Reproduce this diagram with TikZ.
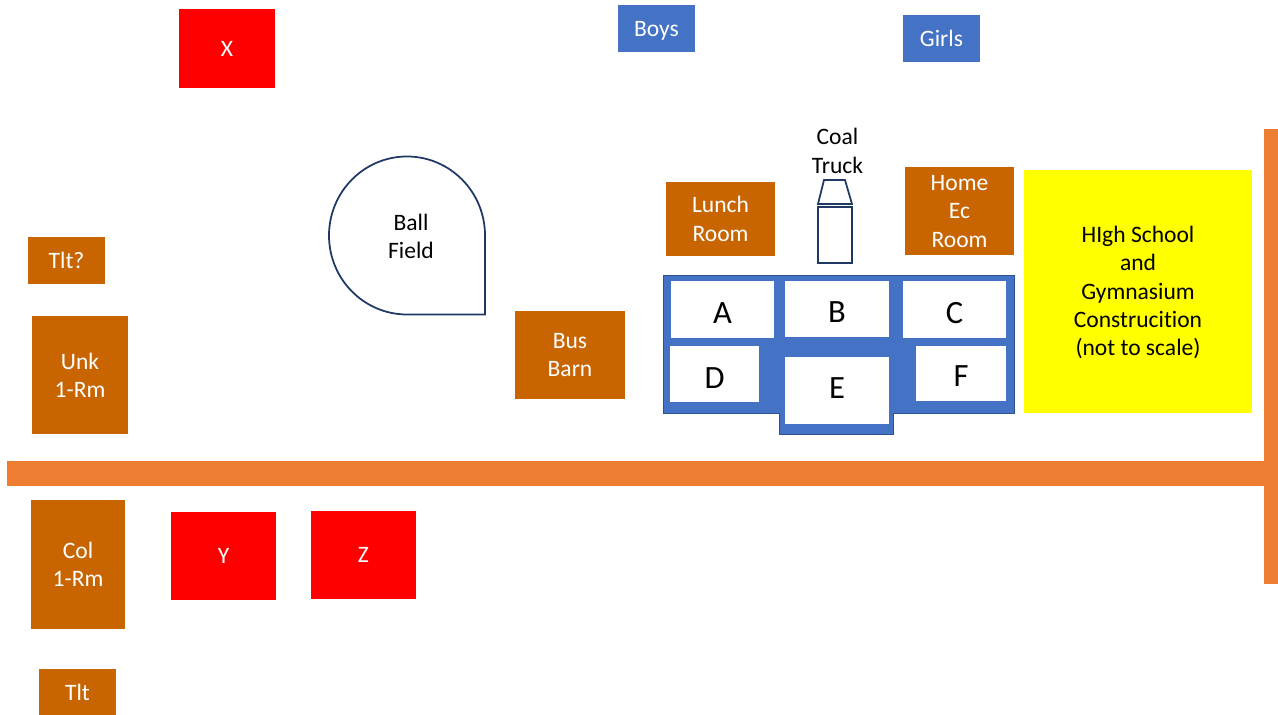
\documentclass[tikz,border=0pt]{standalone}
\usepackage{fontspec}
\setmainfont[Ligatures=CommonOff]{Carlito}
\definecolor{roomfill}{HTML}{C96500}
\definecolor{wingblue}{HTML}{4472C4}
\definecolor{wingedge}{HTML}{2F528F}
\definecolor{roadfill}{HTML}{ED7D31}
\definecolor{outline}{HTML}{203864}
\definecolor{gymyellow}{RGB}{255,255,0}
\definecolor{lostred}{RGB}{255,0,0}
\tikzset{
  size/.style 2 args={minimum width=#1*0.02cm,minimum height=#2*0.02cm},
  plain/.style={inner sep=0pt,align=center,font=\fontsize{13.4}{16.1}\selectfont},
  room/.style={plain,fill=roomfill,text=white},
  privy/.style={plain,fill=wingblue,text=white},
  lost/.style={plain,fill=lostred,text=white},
  class/.style={plain,fill=white,font=\fontsize{18.5}{22}\selectfont},
  drop/.style={text height=11.9pt+#1*1.134pt,text depth=0pt},
}
\begin{document}
\begin{tikzpicture}[x=0.02cm,y=-0.02cm]
\useasboundingbox (0,0) rectangle (1278,715);
% roads
\fill[roadfill] (7,461) rectangle (1264,486);
\fill[roadfill] (1264,129) rectangle (1278,584);
% top row
\node[lost,size={96}{79}] (x) at (227,48.5) {X};
\node[privy,size={77}{47},text height=9.5pt,text depth=0pt] (boys) at (656.5,28.5) {Boys};
\node[privy,size={77}{47},text height=9.5pt,text depth=0pt] (girls) at (941.5,38.5) {Girls};
% ball field
\draw[outline,line width=1pt] (485,314.5) -- (407,314.5) arc (90:360:78 and 79) -- cycle;
\node[plain] (field) at (411,236.5) {Ball\\Field};
% left side
\node[room,size={77}{47}] (tlta) at (66.5,260.5) {Tlt?};
\node[room,size={96}{118}] (unk) at (80,375) {Unk\\1-Rm};
\node[room,size={94}{129}] (col) at (78,564.5) {Col\\1-Rm};
\node[room,size={77}{46}] (tltb) at (77.5,692) {Tlt};
\node[lost,size={105}{88}] (y) at (223.5,556) {Y};
\node[lost,size={105}{88}] (z) at (363.5,555) {Z};
% school
\node[room,size={110}{88}] (bus) at (570,355) {Bus\\Barn};
\node[room,size={109}{74}] (lunch) at (720.5,219) {Lunch\\Room};
\node[room,size={109}{88}] (home) at (959.5,211.5) {Home\\Ec\\Room};
\node[plain] (coal) at (837.5,151) {Coal\\Truck};
\draw[outline,line width=1pt] (824,180) -- (845,180) -- (852,204) -- (818,204) -- cycle;
\draw[outline,line width=1pt] (818,207) rectangle (852,263);
\draw[wingedge,fill=wingblue,line width=0.5pt] (663,275.5) -- (1014,275.5) -- (1014,413) -- (893,413) -- (893,434) -- (779.5,434) -- (779.5,413) -- (663,413) -- cycle;
\node[class,size={103}{57},drop=3] (a) at (722.5,310) {A};
\node[class,size={104}{56},drop=2.5] (b) at (837,309.5) {B};
\node[class,size={103}{57},drop=3] (c) at (954.5,310) {C};
\node[class,size={89}{56},drop=3.5] (d) at (714.5,374.5) {D};
\node[class,size={104}{67},text height=11.9pt,text depth=3.4pt] (e) at (837,391) {E};
\node[class,size={90}{55},drop=2] (f) at (961,374) {F};
% high school
\node[fill=gymyellow,size={228}{243}] (high) at (1138,291.5) {};
\node[plain] (hightext) at (1138,292.5) {HIgh School\\and\\Gymnasium\\Construcition\\(not to scale)};
\end{tikzpicture}
\end{document}
